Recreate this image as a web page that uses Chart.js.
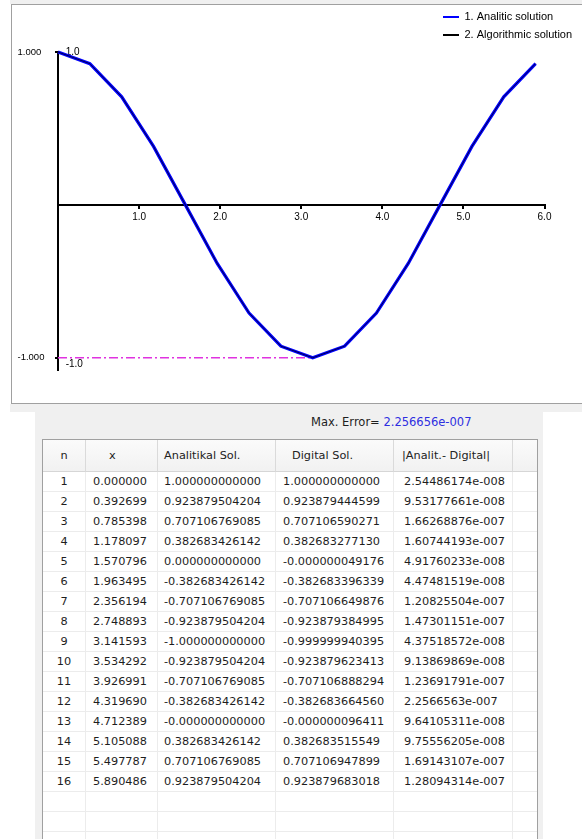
<!DOCTYPE html>
<html><head><meta charset="utf-8">
<script src="https://cdn.jsdelivr.net/npm/chart.js@4/dist/chart.umd.min.js"></script>
<style>
html,body{margin:0;padding:0;background:#fff;}
body{width:582px;height:839px;overflow:hidden;position:relative;font-family:"DejaVu Sans",sans-serif;}
.strip{position:absolute;background:#f0f0f0;}
#panel{position:absolute;left:11px;top:4px;width:620px;height:400px;box-sizing:border-box;border:1px solid #a0a0a0;background:#fff;}
#chartWrap{position:absolute;left:12px;top:5px;width:570px;height:398px;}
#maxerr{position:absolute;left:311px;top:414px;font-size:11.5px;line-height:17px;color:#1e1e1e;white-space:nowrap;}
#maxerr span{color:#2e2ee0;}
#grid{position:absolute;left:42px;top:439px;width:496px;height:420px;border:1px solid #a0a0a0;box-sizing:border-box;background:#fff;overflow:hidden;font-size:11.3px;color:#1e1e1e;}
.row{display:flex;height:20px;}
.row > div{box-sizing:border-box;border-right:1px solid #ececec;border-bottom:1px solid #ececec;line-height:19px;white-space:nowrap;overflow:hidden;flex:none;}
.row.hdr{height:32px;background:linear-gradient(#fbfbfb,#f1f1f1);}
.row.hdr > div{line-height:31px;border-right:1px solid #dadada;border-bottom:1px solid #d6d6d6;color:#222;}
.row > div.last{border-right:none;}
</style>
</head>
<body>
<div class="strip" style="left:10px;top:0;width:572px;height:4px;"></div>
<div id="panel"></div>
<div id="chartWrap"><canvas id="c" width="570" height="398"></canvas></div>
<div class="strip" style="left:10px;top:404px;width:572px;height:8px;"></div>
<div class="strip" style="left:35px;top:412px;width:508px;height:427px;"></div>
<div id="maxerr"></div>
<div id="grid"></div>
<script>
// ---- data ----
const rowNumbers = [1,2,3,4,5,6,7,8,9,10,11,12,13,14,15,16];
const xValues = ['0.000000','0.392699','0.785398','1.178097','1.570796','1.963495','2.356194','2.748893',
                 '3.141593','3.534292','3.926991','4.319690','4.712389','5.105088','5.497787','5.890486'];
const analyticalSol = ['1.000000000000','0.923879504204','0.707106769085','0.382683426142','0.000000000000',
  '-0.382683426142','-0.707106769085','-0.923879504204','-1.000000000000','-0.923879504204','-0.707106769085',
  '-0.382683426142','-0.000000000000','0.382683426142','0.707106769085','0.923879504204'];
const digitalSol = ['1.000000000000','0.923879444599','0.707106590271','0.382683277130','-0.000000049176',
  '-0.382683396339','-0.707106649876','-0.923879384995','-0.999999940395','-0.923879623413','-0.707106888294',
  '-0.382683664560','-0.000000096411','0.382683515549','0.707106947899','0.923879683018'];
const absErrors = ['2.54486174e-008','9.53177661e-008','1.66268876e-007','1.60744193e-007','4.91760233e-008',
  '4.47481519e-008','1.20825504e-007','1.47301151e-007','4.37518572e-008','9.13869869e-008','1.23691791e-007',
  '2.2566563e-007','9.64105311e-008','9.75556205e-008','1.69143107e-007','1.28094314e-007'];
const maxErrorLabel = 'Max. Error=';
const maxErrorValue = '2.256656e-007';
const columnHeaders = ['n','x','Analitikal Sol.','Digital Sol.','|Analit.- Digital|',''];
const seriesLabels = ['1. Analitic solution','2. Algorithmic solution'];
const xTickLabels = ['','1.0','2.0','3.0','4.0','5.0','6.0'];
const yTickValues = [-1, 1];
const yInnerTickLabels = [['','-1.0'], '1.0'];
const yOuterTickLabels = ['-1.000','1.000'];

// ---- table ----
const colW = [43,72,118,118,119,24];
const hdrPad = ['center', 23, 6, 16, 8, 0];
const cellPad = ['center', 7, 6, 7, 10, 0];
const grid = document.getElementById('grid');
function makeRow(cells, cls, pads){
  const r = document.createElement('div'); r.className = 'row' + (cls ? ' ' + cls : '');
  cells.forEach((t,i)=>{
    const d = document.createElement('div');
    d.style.width = colW[i] + 'px';
    if (pads[i] === 'center') d.style.textAlign = 'center'; else d.style.paddingLeft = pads[i] + 'px';
    if (i === colW.length - 1) d.className = 'last';
    d.textContent = t;
    r.appendChild(d);
  });
  grid.appendChild(r);
}
makeRow(columnHeaders, 'hdr', hdrPad);
rowNumbers.forEach((n,i)=> makeRow([String(n), xValues[i], analyticalSol[i], digitalSol[i], absErrors[i], ''], '', cellPad));
for (let k=0;k<4;k++) makeRow(['','','','','',''], '', cellPad);
const me = document.getElementById('maxerr');
me.appendChild(document.createTextNode(maxErrorLabel + ' '));
const sp = document.createElement('span'); sp.textContent = maxErrorValue; me.appendChild(sp);

// ---- chart ----
const analyticPts = xValues.map((x,i)=>({x: parseFloat(x), y: parseFloat(analyticalSol[i])}));
const digitalPts = xValues.map((x,i)=>({x: parseFloat(x), y: parseFloat(digitalSol[i])}));
let minIdx = 0;
analyticPts.forEach((p,i)=>{ if (p.y < analyticPts[minIdx].y) minIdx = i; });
const X_MIN = 0, X_MAX = 6, Y_MIN = -1.08, Y_MAX = 1;
const minLinePts = [{x: X_MIN, y: analyticPts[minIdx].y}, {x: analyticPts[minIdx].x, y: analyticPts[minIdx].y}];

Chart.defaults.font.family = '"Liberation Sans", Arial, sans-serif';
Chart.defaults.color = '#000';

const legendPlacer = {
  id: 'legendPlacer',
  afterLayout(chart){
    const lg = chart.legend; if (!lg) return;
    const w = lg.width, h = lg.height;
    lg.left = 424; lg.top = -0.5; lg.right = lg.left + w; lg.bottom = lg.top + h;
  }
};
const setTicks = (s) => { s.ticks = yTickValues.map(v => ({value: v})); };

new Chart(document.getElementById('c'), {
  type: 'line',
  data: { datasets: [
    { label: seriesLabels[0], data: analyticPts, borderColor: '#0000ff', backgroundColor: '#0000ff',
      borderWidth: 3.2, pointRadius: 0, tension: 0, order: 2, clip: false },
    { label: seriesLabels[1], data: digitalPts, borderColor: '#000000', backgroundColor: '#000000',
      borderWidth: 0.7, pointRadius: 0, tension: 0, order: 1, clip: false },
    { label: 'min', data: minLinePts, borderColor: '#e033e0', backgroundColor: '#e033e0',
      borderWidth: 1.3, borderDash: [9,3,2,3], pointRadius: 0, order: 3, clip: false }
  ]},
  options: {
    responsive: false, animation: false,
    layout: { padding: { left: 5.5, top: 47, right: 37.5, bottom: 33 } },
    plugins: {
      tooltip: { enabled: false },
      legend: {
        position: 'chartArea', align: 'start',
        labels: {
          boxWidth: 16, boxHeight: 2, padding: 7, color: '#000',
          font: { size: 11 },
          filter: (item) => item.datasetIndex < 2,
          sort: (a, b) => a.datasetIndex - b.datasetIndex,
          generateLabels: (chart) => Chart.defaults.plugins.legend.labels.generateLabels(chart)
                                     .map(l => Object.assign(l, { lineWidth: 0 }))
        }
      }
    },
    scales: {
      x: {
        type: 'linear', min: X_MIN, max: X_MAX, position: { y: 0 },
        ticks: { stepSize: 1, autoSkip: false, maxRotation: 0, padding: 3, font: { size: 10 },
                 callback: (v, i) => xTickLabels[i] },
        grid: { display: true, drawOnChartArea: false, drawTicks: true, tickLength: 3, color: '#000', lineWidth: 2 },
        border: { display: true, color: '#000', width: 2 }
      },
      y: {
        type: 'linear', min: Y_MIN, max: Y_MAX, position: 'left', weight: 1,
        afterBuildTicks: setTicks,
        afterFit: (s) => { s.width = 4; },
        ticks: { mirror: true, padding: 7.7, font: { size: 10 }, callback: (v, i) => yInnerTickLabels[i] },
        grid: { display: true, drawOnChartArea: false, tickLength: 3, color: '#000', lineWidth: 2 },
        border: { display: true, color: '#000', width: 2 }
      },
      yL: {
        type: 'linear', min: Y_MIN, max: Y_MAX, position: 'left', weight: 2,
        afterBuildTicks: setTicks,
        afterFit: (s) => { s.width = 36.5; },
        ticks: { crossAlign: 'far', font: { size: 9.5 }, callback: (v, i) => yOuterTickLabels[i] },
        grid: { display: false },
        border: { display: false }
      }
    }
  },
  plugins: [legendPlacer]
});
</script>
</body></html>
